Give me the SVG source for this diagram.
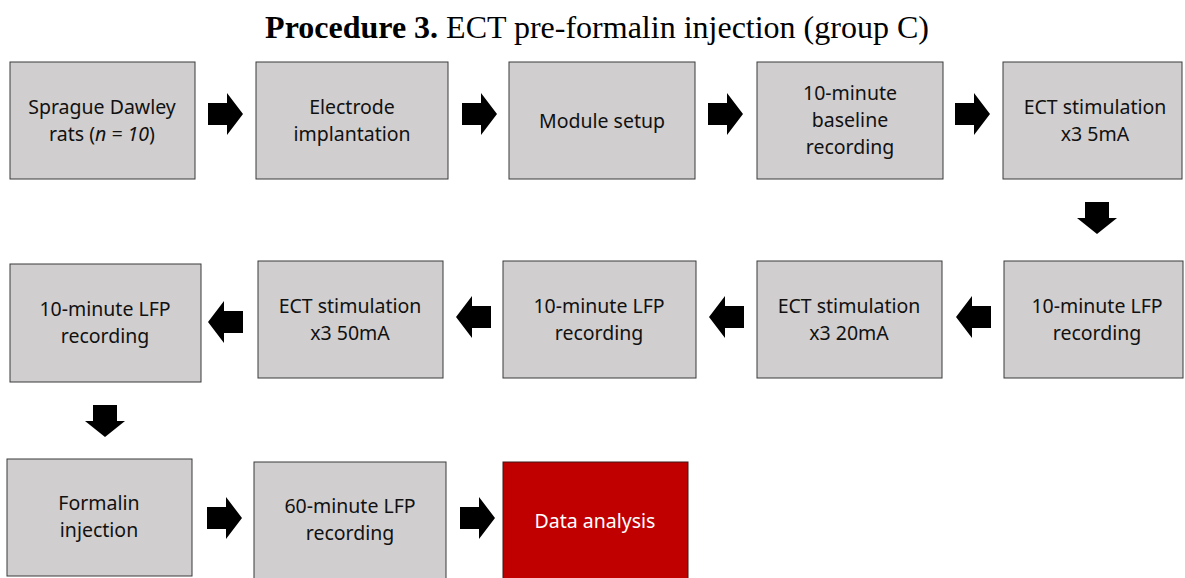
<svg xmlns="http://www.w3.org/2000/svg" width="1185" height="578" viewBox="0 0 1185 578">
<style>
.box{fill:#D0CECE;stroke:#3a3a3a;stroke-width:1}
.red{fill:#C00000;stroke:#3a1a1a;stroke-width:1}
.t{font-family:"Noto Sans",Lato,sans-serif;font-size:19.5px;fill:#111;text-anchor:middle}
.w{fill:#fff}
.arr{fill:#000}
.title{font-family:"Liberation Serif",serif;font-size:32px;fill:#000;text-anchor:middle}
</style>
<defs>
<path id="ar" d="M0,-11 H19 V-21 L35,0 L19,21 V11 H0 Z"/>
<path id="al" d="M0,-11 H-19 V-21 L-35,0 L-19,21 V11 H0 Z"/>
<path id="ad" d="M-12,0 V16 H-20 L0,32 L20,16 H12 V0 Z"/>
</defs>
<text class="title" x="597" y="38"><tspan font-weight="bold">Procedure 3.</tspan> ECT pre-formalin injection (group C)</text>

<g id="n1"><rect class="box" x="10" y="62" width="185" height="117"/><text class="t" x="102" y="114">Sprague Dawley</text><text class="t" x="102" y="141">rats (<tspan font-style="italic">n = 10</tspan>)</text></g>
<g id="n2"><rect class="box" x="256" y="62" width="192" height="117"/><text class="t" x="352" y="114">Electrode</text><text class="t" x="352" y="141">implantation</text></g>
<g id="n3"><rect class="box" x="509" y="62" width="186" height="117"/><text class="t" x="602" y="128">Module setup</text></g>
<g id="n4"><rect class="box" x="757" y="62" width="186" height="117"/><text class="t" x="850" y="100">10-minute</text><text class="t" x="850" y="127">baseline</text><text class="t" x="850" y="154">recording</text></g>
<g id="n5"><rect class="box" x="1003" y="62" width="179" height="117"/><text class="t" x="1095" y="114">ECT stimulation</text><text class="t" x="1095" y="141">x3 5mA</text></g>

<g id="n6"><rect class="box" x="1004" y="261" width="179" height="117"/><text class="t" x="1097" y="313">10-minute LFP</text><text class="t" x="1097" y="340">recording</text></g>
<g id="n7"><rect class="box" x="757" y="261" width="185" height="117"/><text class="t" x="849" y="313">ECT stimulation</text><text class="t" x="849" y="340">x3 20mA</text></g>
<g id="n8"><rect class="box" x="503" y="261" width="193" height="117"/><text class="t" x="599" y="313">10-minute LFP</text><text class="t" x="599" y="340">recording</text></g>
<g id="n9"><rect class="box" x="258" y="261" width="185" height="117"/><text class="t" x="350" y="313">ECT stimulation</text><text class="t" x="350" y="340">x3 50mA</text></g>
<g id="n10"><rect class="box" x="10" y="264" width="191" height="118"/><text class="t" x="105" y="316">10-minute LFP</text><text class="t" x="105" y="343">recording</text></g>

<g id="n11"><rect class="box" x="7" y="459" width="185" height="117"/><text class="t" x="99" y="510">Formalin</text><text class="t" x="99" y="537">injection</text></g>
<g id="n12"><rect class="box" x="254" y="462" width="192" height="120"/><text class="t" x="350" y="513">60-minute LFP</text><text class="t" x="350" y="540">recording</text></g>
<g id="n13"><rect class="red" x="503" y="462" width="185" height="120"/><text class="t w" x="595" y="528">Data analysis</text></g>

<g id="connectors" class="arr">
<use href="#ar" x="208" y="114"/>
<use href="#ar" x="462" y="114"/>
<use href="#ar" x="708" y="114"/>
<use href="#ar" x="955" y="114"/>
<use href="#ad" x="1097" y="202"/>
<use href="#al" x="991" y="317"/>
<use href="#al" x="744" y="317"/>
<use href="#al" x="491" y="317"/>
<use href="#al" x="243" y="322"/>
<use href="#ad" x="105" y="405"/>
<use href="#ar" x="207" y="518"/>
<use href="#ar" x="460" y="518"/>
</g>
</svg>
